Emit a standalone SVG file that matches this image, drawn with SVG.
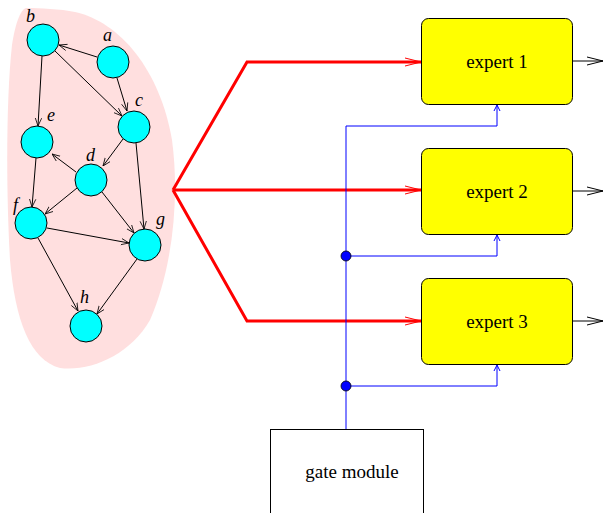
<svg xmlns="http://www.w3.org/2000/svg" width="606" height="513" viewBox="0 0 606 513">
<defs>
<marker id="ak" viewBox="0 0 10 10" refX="10" refY="5" markerWidth="8" markerHeight="8" markerUnits="userSpaceOnUse" orient="auto"><path d="M0,1 L10,5 L0,9" fill="none" stroke="#000" stroke-width="1"/></marker>
<marker id="ar" viewBox="0 0 16 10" refX="16" refY="5" markerWidth="16" markerHeight="10" markerUnits="userSpaceOnUse" orient="auto"><path d="M0,1 L16,5 L0,9" fill="none" stroke="#f00" stroke-width="1"/></marker>
<marker id="ab" viewBox="0 0 6 12" refX="6" refY="6" markerWidth="6" markerHeight="12" markerUnits="userSpaceOnUse" orient="auto"><path d="M0,3 L6,6 L0,9" fill="none" stroke="#00f" stroke-width="1"/></marker>
<marker id="ao" viewBox="0 0 16 10" refX="16" refY="5" markerWidth="16" markerHeight="10" markerUnits="userSpaceOnUse" orient="auto"><path d="M0,1 L16,5 L0,9" fill="none" stroke="#000" stroke-width="1"/></marker>
</defs>
<style>
.n{fill:#00ffff;stroke:#000;stroke-width:1}
.lb{font-family:"Liberation Serif",serif;font-style:italic;font-size:18px;fill:#000}
.e{stroke:#000;stroke-width:1;fill:none;marker-end:url(#ak)}
.r{stroke:#f00;stroke-width:3;fill:none;marker-end:url(#ar)}
.b{stroke:#00f;stroke-width:1;fill:none;marker-end:url(#ab)}
.o{stroke:#000;stroke-width:1;fill:none;marker-end:url(#ao)}
.x{fill:#ffff00;stroke:#000;stroke-width:1}
.t{font-family:"Liberation Serif",serif;font-size:19px;fill:#000;text-anchor:middle}
</style>
<path id="blob" d="M26,8 C40,8 60,9 75,12 C120,22 160,70 172,140 C180,200 172,270 150,320 C130,355 90,372 60,368 C30,360 15,320 10,260 C6,190 6,100 12,45 C15,25 20,10 26,8 Z" fill="#ffdfdf" stroke="none"/>
<g id="edges">
<line class="e" x1="97" y1="57" x2="59" y2="45"/>
<line class="e" x1="117" y1="78" x2="127" y2="111"/>
<line class="e" x1="42" y1="56" x2="38" y2="126"/>
<line class="e" x1="55" y1="51" x2="122" y2="116"/>
<line class="e" x1="123" y1="139" x2="103" y2="166"/>
<line class="e" x1="136" y1="143" x2="144" y2="229"/>
<line class="e" x1="76" y1="172" x2="52" y2="154"/>
<line class="e" x1="77" y1="188" x2="45" y2="214"/>
<line class="e" x1="102" y1="192" x2="134" y2="233"/>
<line class="e" x1="36" y1="158" x2="32" y2="207"/>
<line class="e" x1="47" y1="228" x2="129" y2="243"/>
<line class="e" x1="38" y1="238" x2="78" y2="311"/>
<line class="e" x1="137" y1="259" x2="97" y2="314"/>
</g>
<g id="node-a"><circle class="n" cx="113" cy="62" r="16"/><text class="lb" x="103" y="41">a</text></g>
<g id="node-b"><circle class="n" cx="43" cy="40" r="16"/><text class="lb" x="26" y="22">b</text></g>
<g id="node-c"><circle class="n" cx="134" cy="127" r="16"/><text class="lb" x="135" y="106">c</text></g>
<g id="node-d"><circle class="n" cx="91" cy="180" r="16"/><text class="lb" x="86" y="161">d</text></g>
<g id="node-e"><circle class="n" cx="37" cy="142" r="16"/><text class="lb" x="47" y="121">e</text></g>
<g id="node-f"><circle class="n" cx="31" cy="223" r="16"/><text class="lb" x="13" y="211">f</text></g>
<g id="node-g"><circle class="n" cx="145" cy="245" r="16"/><text class="lb" x="156" y="225">g</text></g>
<g id="node-h"><circle class="n" cx="86" cy="326" r="16"/><text class="lb" x="80" y="303">h</text></g>
<g id="connectors">
<polyline class="r" points="173,190 247,62 421,62"/>
<polyline class="r" points="173,190 421,190"/>
<polyline class="r" points="173,190 247,321 421,321"/>
<line class="o" x1="573" y1="61" x2="603" y2="61"/>
<line class="o" x1="573" y1="191" x2="603" y2="191"/>
<line class="o" x1="573" y1="321" x2="603" y2="321"/>
<line x1="346" y1="126" x2="346" y2="429" stroke="#00f" stroke-width="1"/>
<polyline class="b" points="346,126 497,126 497,105"/>
<polyline class="b" points="346,256 497,256 497,235"/>
<polyline class="b" points="346,386 497,386 497,365"/>
<circle cx="346" cy="256" r="5" fill="#00f" stroke="#000" stroke-width="0.8"/>
<circle cx="346" cy="386" r="5" fill="#00f" stroke="#000" stroke-width="0.8"/>
</g>
<g id="expert1"><rect class="x" x="421.5" y="18.5" width="151" height="86" rx="7"/><text class="t" x="497" y="68">expert 1</text></g>
<g id="expert2"><rect class="x" x="421.5" y="148.5" width="151" height="86" rx="7"/><text class="t" x="497" y="198">expert 2</text></g>
<g id="expert3"><rect class="x" x="421.5" y="278.5" width="151" height="86" rx="7"/><text class="t" x="497" y="328">expert 3</text></g>
<g id="gate"><rect x="270.5" y="429.5" width="153" height="90" fill="#fff" stroke="#000" stroke-width="1"/><text class="t" x="352" y="478">gate module</text></g>
</svg>
